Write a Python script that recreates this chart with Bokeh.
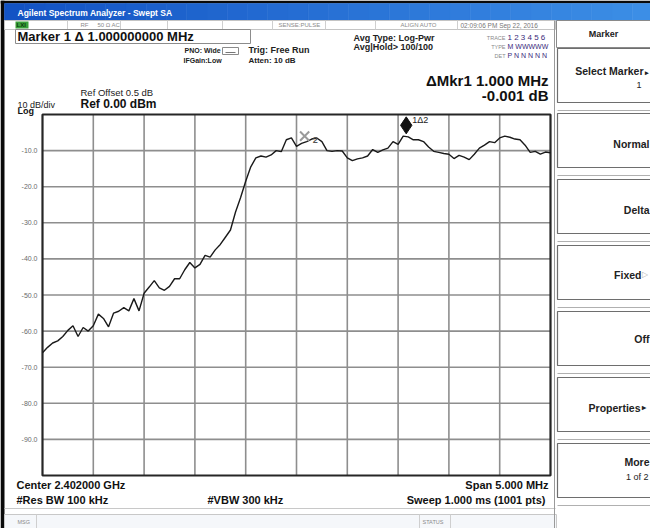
import numpy as np
from bokeh.plotting import figure
from bokeh.models import Range1d, Label
from bokeh.core.properties import value
from bokeh.embed import file_html
from bokeh.resources import INLINE

# ---------------- data ----------------
center_mhz = 2402.0
span_mhz = 5.0
trace_points = 101
trace_dbm = [
    -66.0, -64.5, -63.3, -62.7, -61.5, -59.8, -58.5, -61.5, -59.0, -60.0,
    -58.5, -55.3, -56.5, -58.8, -55.0, -54.5, -53.5, -54.4, -51.0, -54.4,
    -49.5, -47.8, -46.0, -48.0, -48.7, -47.6, -45.5, -45.5, -43.0, -41.0,
    -42.5, -41.5, -39.0, -39.5, -37.5, -36.0, -34.0, -32.0, -27.0, -23.0,
    -18.5, -14.5, -12.0, -11.5, -11.8, -11.2, -10.0, -10.3, -7.0, -6.5,
    -8.8, -8.0, -7.5, -6.8, -6.5, -7.5, -10.0, -10.2, -10.0, -10.1,
    -12.0, -12.8, -12.3, -12.0, -11.5, -9.7, -10.5, -9.8, -9.3, -7.5,
    -8.3, -6.0, -6.2, -7.0, -7.0, -7.5, -9.0, -10.2, -10.5, -10.8,
    -11.0, -12.2, -11.3, -11.8, -12.5, -11.0, -9.3, -8.5, -7.5, -7.8,
    -6.5, -6.0, -6.3, -6.8, -7.0, -8.5, -10.5, -10.2, -11.0, -10.4,
    -10.6,
]
ref_level_dbm = 0.0
db_per_div = 10.0
n_divs = 10
freq_grid_mhz = [2400.0, 2400.5, 2401.0, 2401.5, 2402.0, 2402.5, 2403.0, 2403.5, 2404.0]
level_grid_dbm = [-10.0, -20.0, -30.0, -40.0, -50.0, -60.0, -70.0, -80.0, -90.0]
level_tick_labels = ["-10.0", "-20.0", "-30.0", "-40.0", "-50.0", "-60.0", "-70.0", "-80.0", "-90.0"]
marker_freq_mhz = [2403.08, 2402.08]     # marker 1 (delta), marker 2 (reference)
marker_level_dbm = [-6.0, -6.0]
marker_tags = ["1\u03942", "2"]

# ---------------- page geometry ----------------
PW, PH = 650, 528
X0, X1 = 0, PW
Y0, Y1 = 0, PH
GL, GR, GT, GB = 42, 550, 114, 475

f_lo = center_mhz - span_mhz / 2
f_hi = center_mhz + span_mhz / 2
fpp = (f_hi - f_lo) / (GR - GL)
db_top = ref_level_dbm
db_bot = ref_level_dbm - n_divs * db_per_div
dpp = (db_top - db_bot) / (GB - GT)

FONT = "Liberation Sans"

p = figure(width=PW, height=PH, x_range=Range1d(X0, X1), y_range=Range1d(Y1, Y0),
           x_axis_type=None, y_axis_type=None, output_backend="svg",
           toolbar_location=None, min_border=0, outline_line_color=None,
           background_fill_color="white", border_fill_color="white")
p.extra_x_ranges = {"freq": Range1d(f_lo - (GL - X0) * fpp, f_hi + (X1 - GR) * fpp)}
p.extra_y_ranges = {"db": Range1d(db_bot - (Y1 - GB) * dpp, db_top + (GT - Y0) * dpp)}


def box(l, r, t, b, fill="white", line="#8a8a8a", lw=1.0):
    p.quad(left=l, right=r, top=t, bottom=b, fill_color=fill, line_color=line, line_width=lw)


def seg(x0, y0, x1, y1, color="#9a9a9a", lw=1.0):
    p.segment(x0=x0, y0=y0, x1=x1, y1=y1, line_color=color, line_width=lw)


def lab(x, y, s, size=9, bold=True, color="#111111", align="left"):
    p.add_layout(Label(x=x, y=y, text=s, text_font=FONT, text_font_size=f"{size}px",
                       text_font_style="bold" if bold else "normal", text_color=color,
                       text_align=align, text_baseline="middle"))


# ---------------- outer black frame ----------------
box(0, 4, 0, 528, "#0a0a0a", None, 0)
box(0, 650, 0, 3, "#0a0a0a", None, 0)

# ---------------- title bar (gradient) ----------------
n = 32
xs = np.linspace(4, 652, n + 1)
c0 = np.array([0x13, 0x53, 0xc4])
c1 = np.array([0x3c, 0x8e, 0xe6])
cols = ["#%02x%02x%02x" % tuple(int(v) for v in c0 + (c1 - c0) * t) for t in np.linspace(0, 1, n)]
p.quad(left=xs[:-1], right=xs[1:], top=3, bottom=20, fill_color=cols, line_color=cols, line_width=0.6)
lab(17, 12, "Agilent Spectrum Analyzer - Swept SA", 8.5, True, "white")

# ---------------- status row ----------------
box(4, 555, 20, 29, "white", "#c4c4c4", 1)
for xd in [67, 120, 167, 222, 272, 325, 375, 457]:
    seg(xd, 20, xd, 29, "#cfcfcf", 1)
box(15, 28, 21, 28, "#3aa03a", None, 0)
lab(16, 24.8, "LXI", 6, True, "#0d3d0d")
lab(80, 24.8, "RF", 6, False, "#8a8a8a")
lab(97, 24.8, "50 \u03a9", 6, False, "#8a8a8a")
lab(111, 24.8, "AC", 6, False, "#8a8a8a")
lab(278, 24.8, "SENSE:PULSE", 6, False, "#8a8a8a")
lab(400, 24.8, "ALIGN AUTO", 6, False, "#8a8a8a")
lab(460, 24.8, "02:09:06 PM Sep 22, 2016", 6.5, False, "#777777")

# ---------------- header info ----------------
box(15, 250, 29, 43, "white", "#8c8c8c", 1)
lab(17, 36, "Marker 1 \u0394 1.000000000 MHz", 13, True, "#111111")
lab(184, 50, "PNO: Wide", 7, True, "#222222")
box(222, 238, 47, 54, "white", "#8a8a8a", 1)
seg(225, 52, 235, 52, "#777777", 1)
lab(183, 60, "IFGain:Low", 7, True, "#222222")
lab(248, 49, "Trig: Free Run", 9, True, "#222222")
lab(248, 60, "Atten: 10 dB", 8, True, "#222222")
lab(353, 37, "Avg Type: Log-Pwr", 9, True, "#222222")
lab(353, 46, "Avg|Hold> 100/100", 9, True, "#222222")

lab(505, 37, "TRACE", 5.5, False, "#8a8a8a", "right")
lab(507, 37, "1 2 3 4 5 6", 8, False, "#3a2a7a")
lab(505, 46, "TYPE", 5.5, False, "#8a8a8a", "right")
lab(507, 46, "M WWWWW", 7, False, "#3a2a7a")
lab(505, 55, "DET", 5.5, False, "#8a8a8a", "right")
lab(507, 55, "P N N N N N", 7, False, "#3a2a7a")

lab(548, 80, "\u0394Mkr1 1.000 MHz", 15, True, "#111111", "right")
lab(548, 95, "-0.001 dB", 15, True, "#111111", "right")

lab(80, 92, "Ref Offset 0.5 dB", 9.5, False, "#222222")
lab(80, 103, "Ref 0.00 dBm", 12, True, "#111111")
lab(17, 104, "10 dB/div", 9, False, "#222222")
lab(17, 110.5, "Log", 9, True, "#111111")

# ---------------- graticule ----------------
ng = len(freq_grid_mhz)
p.segment(x0=freq_grid_mhz, y0=[db_bot] * ng, x1=freq_grid_mhz, y1=[db_top] * ng,
          x_range_name="freq", y_range_name="db", line_color="#8e8e8e", line_width=1.6)
nl = len(level_grid_dbm)
p.segment(x0=[f_lo] * nl, y0=level_grid_dbm, x1=[f_hi] * nl, y1=level_grid_dbm,
          x_range_name="freq", y_range_name="db", line_color="#8e8e8e", line_width=1.6)
p.quad(left=f_lo, right=f_hi, top=db_top, bottom=db_bot, fill_color=None,
       line_color="#262626", line_width=2.2, x_range_name="freq", y_range_name="db")
p.text(x=[37] * nl, y=level_grid_dbm, text=level_tick_labels, y_range_name="db",
       text_align="right", text_baseline="middle", text_font=value(FONT),
       text_font_size="7px", text_color="#6a6a6a")

# ---------------- trace ----------------
freqs = np.linspace(f_lo, f_hi, trace_points)
p.line(freqs, trace_dbm, x_range_name="freq", y_range_name="db",
       line_color="#1a1a1a", line_width=1.4)

# ---------------- markers ----------------
p.scatter(x=[marker_freq_mhz[1]], y=[marker_level_dbm[1]], marker="x", size=13,
          line_color="#9a9a9a", line_width=2, x_range_name="freq", y_range_name="db")
p.text(x=[marker_freq_mhz[1]], y=[marker_level_dbm[1]], text=[marker_tags[1]],
       x_offset=8, y_offset=4, x_range_name="freq", y_range_name="db",
       text_align="left", text_baseline="middle", text_font=value(FONT),
       text_font_size="9px", text_font_style="bold", text_color="#555555")
p.scatter(x=[marker_freq_mhz[0]], y=[marker_level_dbm[0] + 3.0], marker="diamond", size=17,
          fill_color="#111111", line_color="#111111", x_range_name="freq", y_range_name="db")
p.text(x=[marker_freq_mhz[0]], y=[marker_level_dbm[0]], text=[marker_tags[0]],
       x_offset=6, y_offset=-16, x_range_name="freq", y_range_name="db",
       text_align="left", text_baseline="middle", text_font=value(FONT),
       text_font_size="9px", text_color="#222222")

# ---------------- bottom annotations ----------------
lab(16, 484, "Center 2.402000 GHz", 11, True, "#111111")
lab(16, 499, "#Res BW 100 kHz", 11, True, "#111111")
lab(207, 499, "#VBW 300 kHz", 11, True, "#111111")
lab(548, 484, "Span 5.000 MHz", 11, True, "#111111", "right")
lab(548, 499, "Sweep  1.000 ms (1001 pts)", 11, True, "#111111", "right")

seg(4, 508, 555, 508, "#c8c8c8", 1)
box(4, 556, 514, 530, "#f5f7fa", "#c8c8c8", 1)
seg(36, 514, 36, 530, "#cfcfcf", 1)
seg(419, 514, 419, 530, "#cfcfcf", 1)
seg(450, 514, 450, 530, "#cfcfcf", 1)
lab(17, 521, "MSG", 5.5, False, "#8a8a8a")
lab(422, 521, "STATUS", 5.5, False, "#8a8a8a")

# ---------------- right soft-key panel ----------------
seg(554, 20, 554, 530, "#9a9a9a", 1)
box(556, 652, 20, 47, "white", "#8a8a8a", 1)
lab(603, 33, "Marker", 9, True, "#222222", "center")
key_tops = [47, 112, 178, 244, 310, 376, 442]
for t in key_tops:
    box(557, 652, t + 1, t + 55, "white", "#6e6e6e", 1.2)
    seg(557, t + 63, 652, t + 63, "#b0b0b0", 1)

lab(643, 70, "Select Marker", 10.5, True, "#222222", "right")
lab(644, 72, "\u25b8", 7, True, "#222222")
lab(641, 84, "1", 9, False, "#222222", "right")
lab(649, 143, "Normal", 10.5, True, "#222222", "right")
lab(649, 209, "Delta", 10.5, True, "#222222", "right")
lab(641, 274, "Fixed", 10.5, True, "#222222", "right")
lab(641, 274, "\u25b7", 8, False, "#b5b5b5")
lab(649, 338, "Off", 10.5, True, "#222222", "right")
lab(640, 407, "Properties", 10.5, True, "#222222", "right")
lab(641, 407, "\u25b8", 8, True, "#222222")
lab(649, 461, "More", 10.5, True, "#222222", "right")
lab(648, 476, "1 of 2", 9, False, "#222222", "right")

open("out.html", "w").write(file_html(p, INLINE))
